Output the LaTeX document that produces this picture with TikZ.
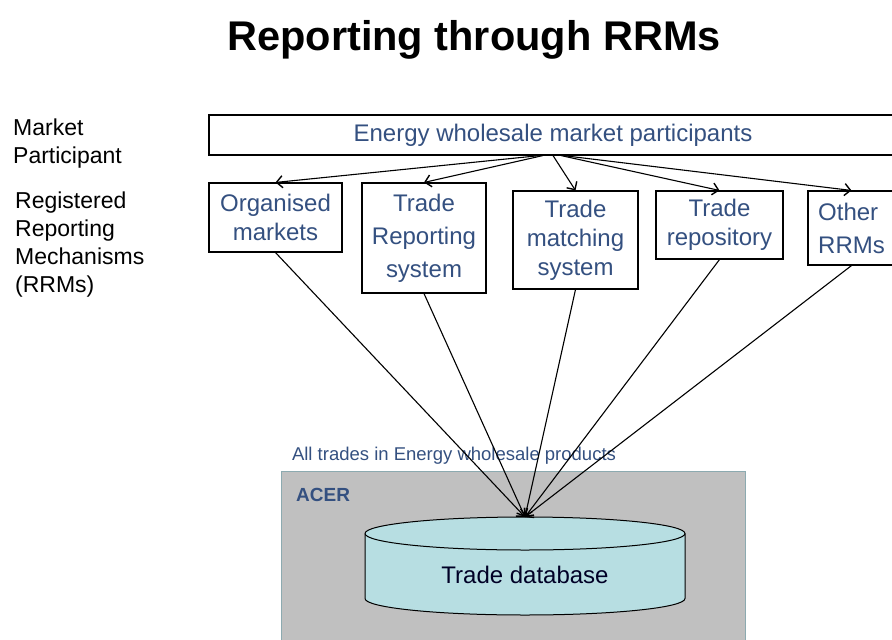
\documentclass[tikz,border=0pt]{standalone}
\usepackage{fontspec}
\setmainfont{Liberation Sans}
\usepackage{tikz}
\usetikzlibrary{arrows.meta}
\definecolor{rrmblue}{RGB}{52,80,128}
\definecolor{acergray}{RGB}{192,192,192}
\definecolor{acerline}{RGB}{140,170,176}
\definecolor{dbfill}{RGB}{183,222,226}
\tikzset{
  rrmbox/.style={draw,line width=1.1pt,fill=white,text=rrmblue,align=center,inner sep=2pt,
    font=\fontsize{24}{29}\selectfont},
  sidelabel/.style={anchor=west,align=left,inner sep=0pt,font=\fontsize{23}{28}\selectfont},
  feed/.style={-{Straight Barb[length=6pt,width=12pt,line width=1.4pt]},line width=1.1pt}
}
\begin{document}
\begin{tikzpicture}[x=1pt,y=1pt]
             \useasboundingbox (0,0) rectangle (892,-640);
             \clip (0,0) rectangle (892,-640);
             \node[font=\bfseries\fontsize{41.5}{48}\selectfont] (title) at (474,-40) {Reporting through RRMs};
             \node[sidelabel] (mp) at (13,-143.5) {Market\\Participant};
             \node[sidelabel] (rrm) at (15,-245) {Registered\\Reporting\\Mechanisms\\(RRMs)};
             \node[rrmbox,minimum width=688pt,minimum height=40pt] (top) at (553,-135) {Energy wholesale market participants};
             \node[rrmbox,minimum width=133pt,minimum height=69pt] (org) at (275.5,-217.5) {Organised\\markets};
             \node[rrmbox,minimum width=124pt,minimum height=110pt,font=\fontsize{24}{33}\selectfont] (trs) at (424,-238) {Trade\\Reporting\\system};
             \node[rrmbox,minimum width=125pt,minimum height=98pt] (tms) at (575.5,-240) {Trade\\matching\\system};
             \node[rrmbox,minimum width=127pt,minimum height=68pt] (trp) at (719.5,-225) {Trade\\repository};
             \node[rrmbox,minimum width=87pt,minimum height=74pt,align=left,font=\fontsize{24}{33}\selectfont] (oth) at (851.5,-228) {Other\\RRMs};
             \draw[feed] ([xshift=-13pt]top.south) -- (org.north);
             \draw[feed] ([xshift=-10pt]top.south) -- (trs.north);
             \draw[feed] ([xshift=0pt]top.south) -- (tms.north);
             \draw[feed] ([xshift=8pt]top.south) -- (trp.north);
             \draw[feed] ([xshift=10pt]top.south) -- (oth.north);
             \node[draw=acerline,line width=1pt,fill=acergray,minimum width=464pt,minimum height=189pt] (acer) at (513,-565.5) {};
             \node[anchor=west,inner sep=0pt,text=rrmblue,font=\bfseries\fontsize{19}{22}\selectfont] (acername) at (296,-495) {ACER};
             \node[text=rrmblue,inner sep=0pt,font=\fontsize{18.5}{22}\selectfont] (alltrades) at (454,-456) {All trades in Energy wholesale products};
             \draw[fill=dbfill,line width=1pt] (365,-533.5) -- (365,-598.5)
               arc[start angle=180,end angle=360,x radius=160,y radius=16.5] -- (685,-533.5)
               arc[start angle=0,end angle=180,x radius=160,y radius=16.5] -- cycle;
             \draw[line width=1pt] (685,-533.5) arc[start angle=0,end angle=-180,x radius=160,y radius=16.5];
             \node[font=\fontsize{24}{29}\selectfont,text=black!85!blue] (db) at (525,-575) {Trade database};
             \coordinate (hub) at (525,-517);
             \draw[feed] (org.south) -- (hub);
             \draw[feed] (trs.south) -- (hub);
             \draw[feed] (tms.south) -- (hub);
             \draw[feed] (trp.south) -- (hub);
             \draw[feed] (oth.south) -- (hub);
            \end{tikzpicture}
\end{document}
